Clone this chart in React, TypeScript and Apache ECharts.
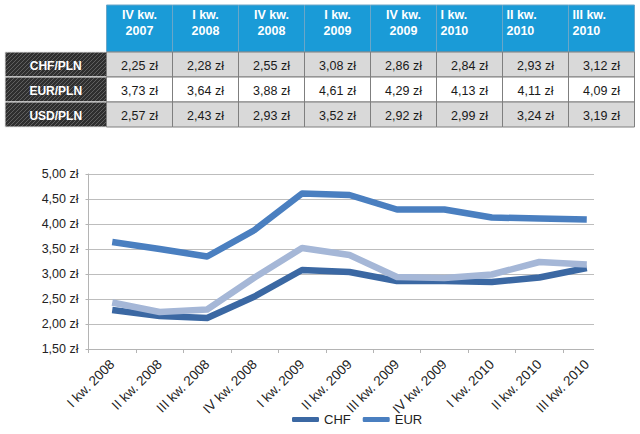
import React, { useEffect, useRef } from "react";
import * as echarts from "echarts";

// ---- Table data ----
const tableQuarters = [
  "IV kw.\n2007",
  "I kw.\n2008",
  "IV kw.\n2008",
  "I kw.\n2009",
  "IV kw.\n2009",
  "I kw.\n2010",
  "II kw.\n2010",
  "III kw.\n2010",
];
const tableRowLabels = ["CHF/PLN", "EUR/PLN", "USD/PLN"];
const tableCHF = [2.25, 2.28, 2.55, 3.08, 2.86, 2.84, 2.93, 3.12];
const tableEUR = [3.73, 3.64, 3.88, 4.61, 4.29, 4.13, 4.11, 4.09];
const tableUSD = [2.57, 2.43, 2.93, 3.52, 2.92, 2.99, 3.24, 3.19];

// ---- Chart data ----
const categories = [
  "I kw. 2008",
  "II kw. 2008",
  "III kw. 2008",
  "IV kw. 2008",
  "I kw. 2009",
  "II kw. 2009",
  "III kw. 2009",
  "IV kw. 2009",
  "I kw. 2010",
  "II kw. 2010",
  "III kw. 2010",
];
const chfValues = [2.28, 2.16, 2.12, 2.55, 3.08, 3.04, 2.86, 2.86, 2.84, 2.93, 3.12];
const eurValues = [3.64, 3.5, 3.35, 3.88, 4.61, 4.58, 4.29, 4.29, 4.13, 4.11, 4.09];
const usdValues = [2.43, 2.24, 2.29, 2.93, 3.52, 3.38, 2.94, 2.92, 2.99, 3.24, 3.19];
const seriesNames = ["CHF", "EUR", "USD"];
const legendNames = ["CHF", "EUR"];
const yMin = 1.5;
const yMax = 5;
const yInterval = 0.5;

const FONT = 'Arial, "Liberation Sans", sans-serif';
const fmt = (v: number) => v.toFixed(2).replace(".", ",") + " zł";

function makeHatch(): any {
  const c = document.createElement("canvas");
  c.width = 4;
  c.height = 4;
  const ctx = c.getContext("2d");
  if (!ctx) return "#333333";
  ctx.fillStyle = "#2f2f2f";
  ctx.fillRect(0, 0, 4, 4);
  ctx.strokeStyle = "#5f5f5f";
  ctx.lineWidth = 1;
  ctx.beginPath();
  ctx.moveTo(-1, 5);
  ctx.lineTo(5, -1);
  ctx.stroke();
  return { image: c, repeat: "repeat" };
}

export default function App() {
  const ref = useRef<HTMLDivElement>(null);

  useEffect(() => {
    document.body.style.margin = "0";
    if (!ref.current) return;
    const chart = echarts.init(ref.current, null, { renderer: "svg" });

    const hatch = makeHatch();
    const tx0 = 106.5;
    const colW = 66;
    const hdrTop = 5;
    const hdrH = 47;
    const rowTop = 52;
    const rowH = 25;
    const labelX = 5;
    const labelW = tx0 - labelX;
    const rows = [tableCHF, tableEUR, tableUSD];
    const rowFills = ["#d9d9d9", "#ffffff", "#d9d9d9"];

    const graphics: any[] = [];
    tableQuarters.forEach((q, i) => {
      const x = tx0 + i * colW;
      graphics.push({
        type: "rect",
        shape: { x, y: hdrTop, width: colW, height: hdrH },
        style: { fill: "#1a9bd7", stroke: "#6aa6c8", lineWidth: 1 },
      });
      const leftAlign = i >= 5;
      graphics.push({
        type: "text",
        x: leftAlign ? x + 4 : x + colW / 2,
        y: hdrTop + 18,
        style: {
          text: q,
          fill: "#ffffff",
          font: `bold 12.5px ${FONT}`,
          align: leftAlign ? "left" : "center",
          verticalAlign: "middle",
          lineHeight: 16,
        },
      });
    });

    rows.forEach((vals, r) => {
      const y = rowTop + r * rowH;
      graphics.push({
        type: "rect",
        shape: { x: labelX, y, width: labelW, height: rowH },
        style: { fill: hatch, stroke: "#e8e8e8", lineWidth: 1 },
      });
      graphics.push({
        type: "text",
        x: labelX + labelW / 2,
        y: y + rowH / 2 + 1,
        style: {
          text: tableRowLabels[r],
          fill: "#ffffff",
          font: `bold 12px ${FONT}`,
          align: "center",
          verticalAlign: "middle",
        },
      });
      vals.forEach((v, i) => {
        const x = tx0 + i * colW;
        graphics.push({
          type: "rect",
          shape: { x, y, width: colW, height: rowH },
          style: { fill: rowFills[r], stroke: "#7f7f7f", lineWidth: 1 },
        });
        graphics.push({
          type: "text",
          x: x + colW / 2,
          y: y + rowH / 2 + 1,
          style: {
            text: fmt(v),
            fill: "#1a1a1a",
            font: `12.5px ${FONT}`,
            align: "center",
            verticalAlign: "middle",
          },
        });
      });
    });

    // mask to clip plot area on the right like the reference
    graphics.push({
      type: "rect",
      z: 50,
      shape: { x: 594, y: 160, width: 30, height: 194 },
      style: { fill: "#ffffff" },
    });

    const colors = ["#3b68a3", "#4a7fc0", "#a5b7d7"];
    const values = [chfValues, eurValues, usdValues];

    chart.setOption({
      animation: false,
      textStyle: { fontFamily: FONT },
      grid: {
        left: 88.5,
        right: 29.5,
        top: 174,
        bottom: 85,
        containLabel: false,
        outerBoundsMode: "none",
      },
      legend: {
        data: legendNames,
        left: 287,
        top: 408,
        icon: "roundRect",
        itemWidth: 27,
        itemHeight: 5,
        itemGap: 12,
        textStyle: { fontSize: 13, color: "#222", fontFamily: FONT },
      },
      xAxis: {
        type: "category",
        data: categories,
        boundaryGap: true,
        axisLine: { lineStyle: { color: "#b4b4b4", width: 1 } },
        axisTick: { show: true, length: 4, lineStyle: { color: "#b4b4b4" } },
        axisLabel: {
          interval: 0,
          rotate: 45,
          margin: 13,
          fontSize: 13.5,
          color: "#222",
          fontFamily: FONT,
        },
      },
      yAxis: {
        type: "value",
        min: yMin,
        max: yMax,
        interval: yInterval,
        axisLine: { show: true, lineStyle: { color: "#b4b4b4", width: 1 } },
        axisTick: { show: true, length: 3, lineStyle: { color: "#b4b4b4" } },
        splitLine: { lineStyle: { color: "#bdbdbd", width: 1 } },
        axisLabel: {
          formatter: (v: number) => fmt(v),
          margin: 10,
          fontSize: 12.5,
          color: "#222",
          fontFamily: FONT,
        },
      },
      series: values.map((d, i) => ({
        name: seriesNames[i],
        type: "line",
        data: d,
        symbol: "none",
        color: colors[i],
        lineStyle: { width: 6.5, color: colors[i], join: "round" },
        z: 3 + i,
      })),
      graphic: graphics,
    });

    return () => chart.dispose();
  }, []);

  return <div ref={ref} style={{ width: 640, height: 434 }} />;
}
